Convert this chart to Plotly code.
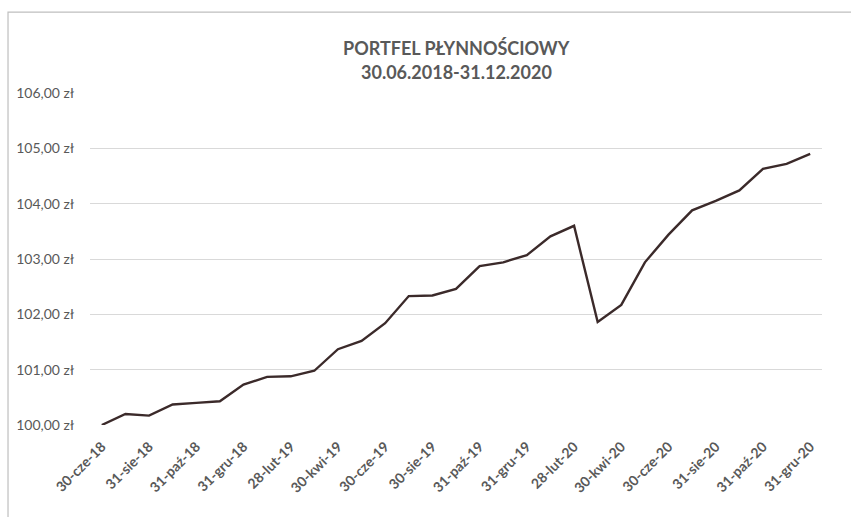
import plotly.graph_objects as go

# ---- data ----
dates = [
    "30-cze-18", "31-lip-18", "31-sie-18", "30-wrz-18", "31-paź-18", "30-lis-18",
    "31-gru-18", "31-sty-19", "28-lut-19", "31-mar-19", "30-kwi-19", "31-maj-19",
    "30-cze-19", "31-lip-19", "30-sie-19", "30-wrz-19", "31-paź-19", "30-lis-19",
    "31-gru-19", "31-sty-20", "28-lut-20", "31-mar-20", "30-kwi-20", "31-maj-20",
    "30-cze-20", "31-lip-20", "31-sie-20", "30-wrz-20", "31-paź-20", "30-lis-20",
    "31-gru-20",
]
values = [
    100.00, 100.20, 100.17, 100.37, 100.40, 100.43,
    100.73, 100.87, 100.88, 100.98, 101.37, 101.52,
    101.84, 102.33, 102.34, 102.46, 102.87, 102.94,
    103.07, 103.41, 103.60, 101.86, 102.17, 102.94,
    103.44, 103.88, 104.05, 104.24, 104.63, 104.72,
    104.90,
]
x_tick_labels = dates[::2]
y_tick_values = [100, 101, 102, 103, 104, 105, 106]
y_tick_labels = ["100,00 zł", "101,00 zł", "102,00 zł", "103,00 zł",
                 "104,00 zł", "105,00 zł", "106,00 zł"]
title_line1 = "PORTFEL PŁYNNOŚCIOWY"
title_line2 = "30.06.2018-31.12.2020"

FONT = "Lato, 'Open Sans', sans-serif"
GRAY = "#595959"

fig = go.Figure()
fig.add_trace(go.Scatter(
    x=dates, y=values, mode="lines",
    line=dict(color="#3b2a2a", width=2.4),
    hoverinfo="x+y",
))

fig.update_layout(
    width=851, height=517,
    margin=dict(l=90, r=29, t=93, b=91.5),
    paper_bgcolor="white", plot_bgcolor="white",
    showlegend=False,
    font=dict(family=FONT, color=GRAY, size=13),
    xaxis=dict(
        type="category",
        range=[-0.5, len(dates) - 0.5],
        tickmode="array", tickvals=x_tick_labels, ticktext=x_tick_labels,
        tickangle=-45, automargin=False,
        showgrid=False, zeroline=False, showline=False,
        ticks="outside", ticklen=7, tickcolor="rgba(0,0,0,0)",
        tickfont=dict(family=FONT, size=14, color=GRAY, weight="bold"),
    ),
    yaxis=dict(
        range=[100, 106], automargin=False,
        tickmode="array", tickvals=y_tick_values, ticktext=y_tick_labels,
        showgrid=True, gridcolor="#d9d9d9", gridwidth=1,
        zeroline=False, showline=False,
        ticks="outside", ticklen=12, tickcolor="rgba(0,0,0,0)",
        tickfont=dict(family=FONT, size=14, color=GRAY),
    ),
    annotations=[
        dict(text=title_line1, xref="paper", yref="paper", x=0.5, y=1.135,
             showarrow=False, xanchor="center", yanchor="middle",
             font=dict(family=FONT, size=18, color=GRAY, weight="bold")),
        dict(text=title_line2, xref="paper", yref="paper", x=0.5, y=1.063,
             showarrow=False, xanchor="center", yanchor="middle",
             font=dict(family=FONT, size=18, color=GRAY, weight="bold")),
    ],
    shapes=[
        dict(type="rect", xref="paper", yref="paper",
             x0=-0.112, x1=1.06, y0=-0.35, y1=1.2436,
             line=dict(color="#bfbfbf", width=1.2), fillcolor="rgba(0,0,0,0)",
             layer="below"),
    ],
)

fig.write_html("out.html",
               config={"displayModeBar": False},
               post_script="document.body.style.margin='0';")
